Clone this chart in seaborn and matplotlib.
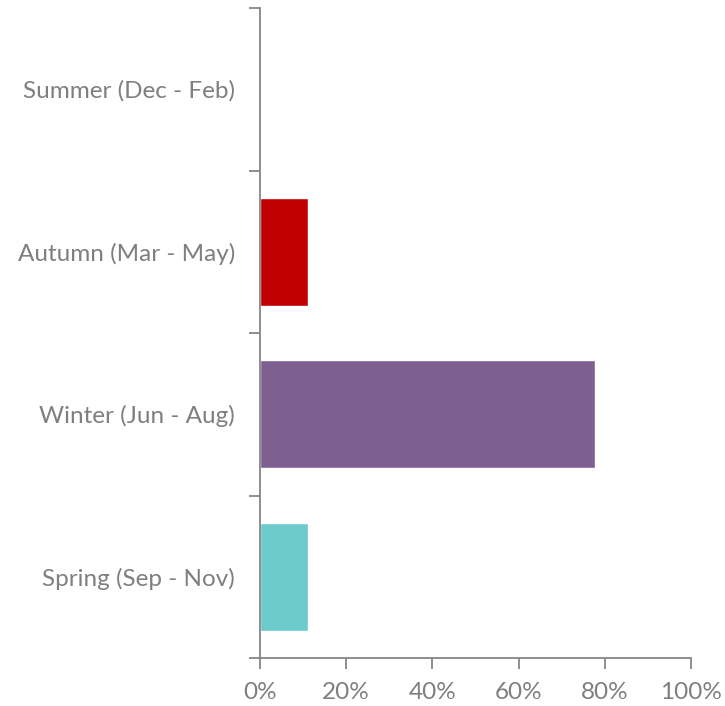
import matplotlib
matplotlib.use('Agg')
import matplotlib.pyplot as plt
import seaborn as sns
import pandas as pd
from matplotlib.ticker import PercentFormatter

# Data
seasons = ['Summer (Dec - Feb)', 'Autumn (Mar - May)', 'Winter (Jun - Aug)', 'Spring (Sep - Nov)']
shares = [0.0, 11.1, 77.8, 11.1]
colors = ['#4F81BD', '#C00000', '#7F5F8F', '#6CC9CC']

df = pd.DataFrame({'season': seasons, 'share': shares})

sns.set_style('white')
plt.rcParams['font.family'] = ['Lato', 'DejaVu Sans']

fig = plt.figure(figsize=(7.25, 7.06), dpi=100)
ax = fig.add_axes([260 / 725, 48 / 706, 431 / 725, 650 / 706])

sns.barplot(data=df, x='share', y='season', hue='season', palette=colors,
            orient='h', width=0.667, legend=False, saturation=1, ax=ax)

gray = '#868686'
ax.set_xlim(0, 100)
ax.set_ylim(3.5, -0.5)
ax.set_xticks([0, 20, 40, 60, 80, 100])
ax.xaxis.set_major_formatter(PercentFormatter(decimals=0))
ax.set_yticks(range(len(seasons)))
ax.set_yticklabels(seasons)
ax.set_yticks([i - 0.5 for i in range(len(seasons) + 1)], minor=True)

ax.tick_params(axis='y', which='major', length=0, pad=18, labelsize=17.5, labelcolor='#7F7F7F')
ax.tick_params(axis='y', which='minor', left=True, length=8, width=1.3, color=gray)
ax.tick_params(axis='x', bottom=True, length=8, width=1.3, color=gray, pad=9,
               labelsize=17.5, labelcolor='#7F7F7F')

for side in ['top', 'right']:
    ax.spines[side].set_visible(False)
for side in ['left', 'bottom']:
    ax.spines[side].set_color(gray)
    ax.spines[side].set_linewidth(1.3)

ax.set_xlabel('')
ax.set_ylabel('')

plt.savefig('out.png', dpi=100)
